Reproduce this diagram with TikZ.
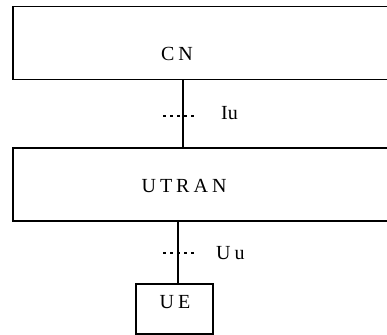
\documentclass[tikz,border=0pt]{standalone}
\usepackage{fontspec}
\setmainfont{Liberation Serif}
\newfontfamily\spacedfont[LetterSpace=20]{Liberation Serif}
\usetikzlibrary{positioning}
\tikzset{
  netbox/.style={draw=black, line width=1.5pt, rectangle, inner sep=0pt},
  boxlabel/.style={font=\fontsize{20}{22}\spacedfont, inner sep=0pt, text=black},
  ifacelabel/.style={font=\fontsize{20}{22}\spacedfont, inner sep=0pt, anchor=west},
  link/.style={line width=1.2pt},
  ifacedots/.style={line width=1.5pt, dash pattern=on 2.5pt off 4.5pt}
}
\begin{document}
\begin{tikzpicture}[x=1pt, y=-1pt]
  \path[use as bounding box, clip] (0,0) rectangle (387,334);
  % CN box (runs past the right edge)
  \node[netbox, minimum width=390pt, minimum height=73pt, anchor=north west] (cn) at (12,6) {};
  \node[boxlabel] (cntext) at (177,54) {CN};
  % UTRAN box
  \node[netbox, minimum width=390pt, minimum height=73pt, anchor=north west] (utran) at (12,147) {};
  \node[boxlabel] (utrantext) at (184,186) {UTRAN};
  % UE box
  \node[netbox, minimum width=77pt, minimum height=50pt, anchor=north west] (ue) at (135,283) {};
  \node[boxlabel] (uetext) at (175,302.5) {UE};
  % Iu interface
  \coordinate (iux) at (183,0);
  \draw[link] (cn.south -| iux) -- (utran.north -| iux);
  \coordinate (iuleft) at (163,116);
  \coordinate (iuright) at (198,116);
  \draw[ifacedots] (iuleft) -- (iuright);
  \node[ifacelabel, font=\fontsize{20}{22}\selectfont] (iu) at (221,113) {Iu};
  % Uu interface
  \coordinate (uux) at (178,0);
  \draw[link] (utran.south -| uux) -- (ue.north -| uux);
  \coordinate (uuleft) at (163,253);
  \coordinate (uuright) at (197,253);
  \draw[ifacedots] (uuleft) -- (uuright);
  \node[ifacelabel] (uu) at (216,253) {Uu};
\end{tikzpicture}
\end{document}
